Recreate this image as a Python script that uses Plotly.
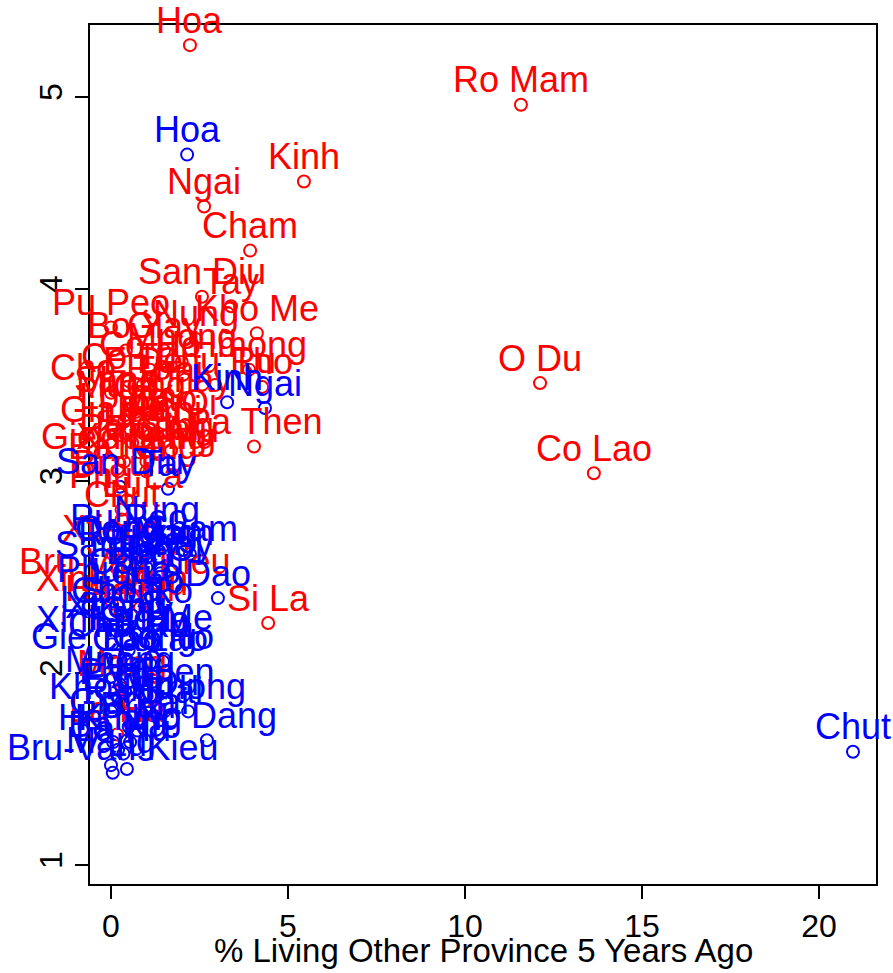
import plotly.graph_objects as go

groups = ["Kinh", "Tay", "Thai", "Muong", "Kho Me", "Hoa", "Nung", "Hmong", "Dao", "Gia Rai",
          "Ngai", "E De", "Ba Na", "Xo Dang", "San Chay", "Co Ho", "Cham", "San Diu", "Hre", "Mnong",
          "Ra Glai", "Xtieng", "Bru-Van Kieu", "Tho", "Giay", "Co Tu", "Gie Trieng", "Ma", "Kho Mu", "Co",
          "Ta Oi", "Cho Ro", "Khang", "Xinh Mun", "Ha Nhi", "Chu Ru", "Lao", "La Chi", "La Ha", "Phu La",
          "La Hu", "Lu", "Lo Lo", "Chut", "Mang", "Pa Then", "Co Lao", "Cong", "Bo Y", "Si La",
          "Pu Peo", "Brau", "O Du", "Ro Mam"]

# red series
red_x = [5.45, 3.39, 1.6, 0.56, 4.12, 2.23, 2.40, 3.9, 1.5, 0.26,
         2.63, 0.9, 0.2, 1.0, 1.2, 1.1, 3.93, 2.57, 0.6, 2.0,
         0.8, 0.05, 0.37, 4.27, 1.5, 0.5, 0.37, 0.9, 1.3, 0.7,
         1.8, 0.0, 1.0, 0.03, 0.26, 2.94, 0.5, 1.1, 0.17, 0.45,
         0.82, 0.3, 0.37, 0.3, 0.3, 4.04, 13.64, 1.7, 0.42, 4.44,
         0.0, 0.0, 12.12, 11.58]
red_y = [4.56, 3.91, 3.45, 3.37, 3.77, 5.27, 3.74, 3.58, 3.30, 3.24,
         4.43, 3.50, 3.05, 3.10, 3.40, 3.58, 4.20, 3.96, 3.20, 3.62,
         3.15, 2.62, 2.45, 3.49, 3.68, 3.52, 3.10, 3.25, 3.14, 3.36,
         3.28, 3.46, 3.05, 2.36, 2.31, 3.50, 3.40, 3.24, 1.68, 2.90,
         2.34, 2.85, 3.31, 2.80, 1.92, 3.18, 3.04, 3.16, 3.68, 2.26,
         3.80, 2.96, 3.51, 4.96]

# blue series
blue_x = [3.28, 1.61, 1.0, 0.9, 1.14, 2.15, 1.30, 2.18, 3.02, 0.5,
          4.35, 0.3, 0.2, 2.71, 0.65, 1.47, 2.23, 0.25, 0.8, 0.25,
          0.9, 0.15, 0.05, 1.2, 0.7, 0.7, 0.08, 0.4, 0.0, 0.8,
          1.4, 0.6, 0.54, 0.03, 0.06, 0.5, 0.6, 0.03, 0.9, 0.1,
          0.35, 0.45, 0.7, 20.96, 0.0, 1.0, 1.1, 0.2, 0.95, 0.3,
          0.5, 0.75, 1.3, 1.0]
blue_y = [3.41, 2.96, 2.55, 2.60, 2.16, 4.70, 2.72, 1.80, 2.39, 1.72,
          3.38, 1.85, 1.60, 1.65, 2.54, 2.06, 2.62, 2.97, 2.50, 1.94,
          1.78, 2.22, 1.48, 2.35, 2.20, 2.45, 2.06, 1.90, 1.80, 1.95,
          2.52, 2.30, 1.64, 2.15, 1.64, 2.12, 2.05, 2.25, 2.15, 2.41,
          1.58, 1.50, 2.40, 1.59, 1.52, 1.88, 2.05, 2.62, 2.50, 2.30,
          2.68, 1.70, 1.82, 2.60]

x_ticks = [0, 5, 10, 15, 20]
y_ticks = [1, 2, 3, 4, 5]
x_title = "% Living Other Province 5 Years Ago"

FONT = "Arial, Liberation Sans, Helvetica, sans-serif"

fig = go.Figure()
for xs, ys, col in [(red_x, red_y, "#FF0000"), (blue_x, blue_y, "#0000FF")]:
    fig.add_trace(go.Scatter(
        x=xs, y=ys, mode="markers", text=groups,
        marker=dict(symbol="circle-open", size=12, color=col, line=dict(width=2, color=col)),
        cliponaxis=False, showlegend=False, hoverinfo="text"))
    for gx, gy, name in zip(xs, ys, groups):
        fig.add_annotation(x=gx, y=gy, xref="x", yref="y", text=name, showarrow=False,
                           xanchor="center", yanchor="middle", yshift=25,
                           font=dict(family=FONT, size=36, color=col))

axis_common = dict(showgrid=False, zeroline=False, showline=True, mirror=True,
                   linecolor="black", linewidth=2, ticks="outside", ticklen=13,
                   tickwidth=2, tickcolor="black",
                   tickfont=dict(family=FONT, size=32, color="black"))

fig.update_xaxes(range=[-0.593, 21.61], tickvals=x_ticks, ticktext=[str(v) for v in x_ticks],
                 **axis_common)
fig.update_yaxes(range=[0.901, 5.375], tickvals=y_ticks, ticktext=[str(v) for v in y_ticks],
                 tickangle=-90, **axis_common)

fig.add_annotation(text=x_title, xref="paper", yref="paper", x=0.5, y=0,
                   xanchor="center", yanchor="middle", yshift=-66, showarrow=False,
                   font=dict(family=FONT, size=33, color="black"))

fig.update_layout(width=893, height=973, margin=dict(l=90, r=17, t=25, b=89),
                  plot_bgcolor="white", paper_bgcolor="white")

fig.write_html("out.html", config={"displayModeBar": False},
               post_script="document.body.style.margin='0';document.body.style.overflow='hidden';")
